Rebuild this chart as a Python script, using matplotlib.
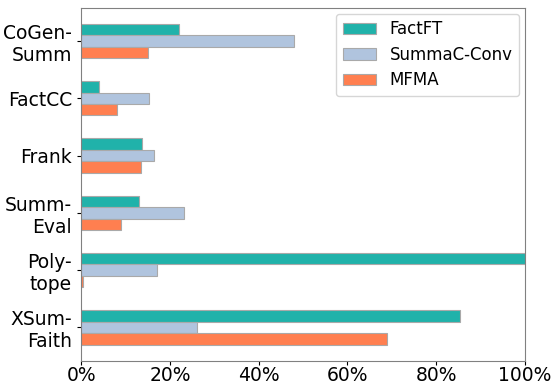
import matplotlib.pyplot as plt
import numpy as np
from matplotlib.ticker import PercentFormatter

# datasets (top to bottom) and share of each method, in percent
datasets = ["CoGen-\nSumm", "FactCC", "Frank", "Summ-\nEval", "Poly-\ntope", "XSum-\nFaith"]
factft = [22.0, 4.0, 13.7, 13.0, 100.0, 85.4]
summac_conv = [48.0, 15.3, 16.4, 23.2, 17.0, 26.0]
mfma = [15.0, 8.0, 13.5, 9.0, 0.5, 69.0]

series = [
    ("FactFT", factft, "lightseagreen"),
    ("SummaC-Conv", summac_conv, "lightsteelblue"),
    ("MFMA", mfma, "coral"),
]

fig, ax = plt.subplots(figsize=(5.52, 3.87), dpi=100)
y = np.arange(len(datasets))
h = 0.2
for i, (name, vals, color) in enumerate(series):
    ax.barh(y + (i - 1) * h, vals, height=h, color=color, label=name,
            edgecolor="darkgray", linewidth=0.8)

ax.set_yticks(y)
ax.set_yticklabels(datasets, fontsize=13.5)
ax.invert_yaxis()
ax.set_xlim(0, 100)
ax.xaxis.set_major_formatter(PercentFormatter(decimals=0))
ax.tick_params(axis="x", labelsize=13.5, pad=1)
for s in ax.spines.values():
    s.set_color("gray")
ax.tick_params(colors="black", length=3)

ax.legend(loc="upper right", fontsize=12, borderaxespad=0.35, labelspacing=0.45)

plt.subplots_adjust(left=0.147, right=0.951, top=0.98, bottom=0.068)
plt.savefig("out.png")
